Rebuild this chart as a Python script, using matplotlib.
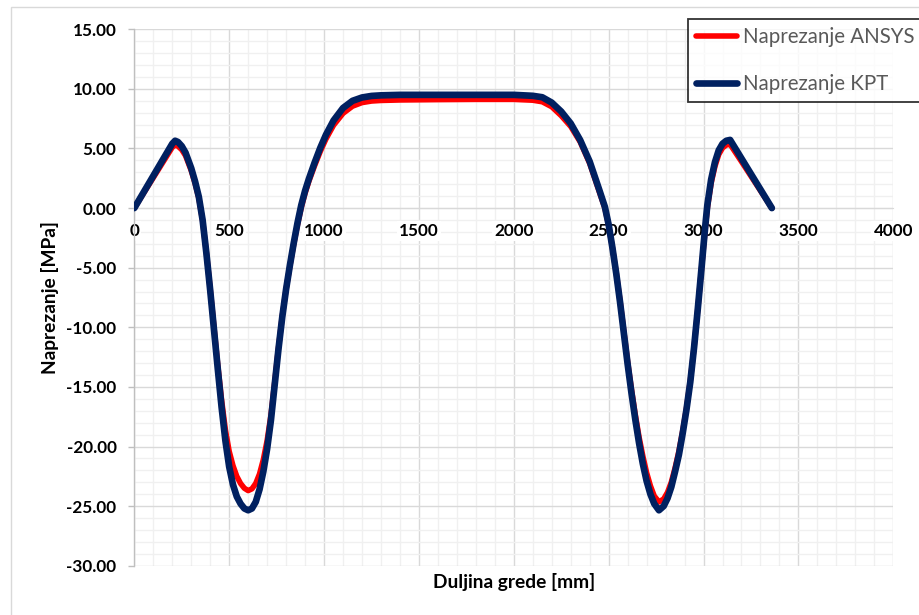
import matplotlib
matplotlib.use('Agg')
import matplotlib.pyplot as plt
from matplotlib.ticker import MultipleLocator, FormatStrFormatter
from matplotlib.patches import Rectangle

plt.rcParams['font.family'] = ['Lato', 'DejaVu Sans']

# ---- data ----
x_mm = [0, 100, 200, 215, 230, 250, 270, 300, 320, 340, 360, 380, 400, 420, 440,
        460, 480, 500, 520, 540, 560, 580, 600, 620, 640, 660, 680, 700, 720, 740,
        760, 780, 800, 820, 840, 860, 880, 900, 920, 950, 980, 1010, 1050, 1100,
        1150, 1200, 1250, 1300, 1400, 1600, 1800, 2000, 2100, 2150, 2200, 2250,
        2300, 2350, 2400, 2450, 2480, 2500, 2520, 2540, 2560, 2580, 2600, 2620,
        2640, 2660, 2680, 2700, 2720, 2740, 2765, 2790, 2810, 2830, 2850, 2870,
        2890, 2910, 2930, 2950, 2970, 2990, 3000, 3010, 3020, 3040, 3060, 3080,
        3100, 3120, 3140, 3200, 3250, 3300, 3360]

naprezanje_kpt = [0, 2.7, 5.4, 5.65, 5.55, 5.2, 4.65, 3.35, 2.25, 0.95, -1.0, -3.8,
                  -6.9, -10.2, -13.5, -16.7, -19.5, -21.7, -23.2, -24.2, -24.8,
                  -25.2, -25.35, -25.2, -24.65, -23.6, -22.1, -20.2, -17.8, -14.8,
                  -11.8, -9.1, -6.8, -4.8, -2.95, -1.25, 0.25, 1.45, 2.45, 3.8, 5.05,
                  6.15, 7.35, 8.4, 9.0, 9.28, 9.41, 9.46, 9.5, 9.5, 9.5, 9.5, 9.42,
                  9.3, 8.85, 8.1, 7.1, 5.7, 3.9, 1.55, 0.1, -1.4, -3.35, -5.5, -7.9,
                  -10.5, -13.1, -15.5, -17.7, -19.7, -21.45, -22.9, -24.0, -24.8,
                  -25.35, -25.0, -24.35, -23.4, -22.1, -20.7, -18.9, -16.9, -14.6,
                  -11.7, -8.4, -4.9, -3.1, -1.35, 0.25, 2.4, 3.85, 4.85, 5.4, 5.65,
                  5.72, 4.16, 2.86, 1.56, 0]

naprezanje_ansys = [0, 2.55, 5.1, 5.3, 5.2, 4.9, 4.4, 3.15, 2.1, 0.85, -1.05, -3.75,
                    -6.8, -10.0, -13.2, -16.1, -18.6, -20.4, -21.6, -22.5, -23.1,
                    -23.5, -23.7, -23.55, -23.1, -22.3, -21.1, -19.5, -17.4, -14.6,
                    -11.7, -9.05, -6.8, -4.85, -3.05, -1.4, 0.05, 1.25, 2.25, 3.55,
                    4.75, 5.8, 6.95, 7.95, 8.55, 8.85, 8.98, 9.03, 9.07, 9.1, 9.12,
                    9.12, 9.05, 8.92, 8.5, 7.75, 6.85, 5.55, 3.75, 1.4, 0.0, -1.45,
                    -3.35, -5.45, -7.8, -10.35, -12.9, -15.2, -17.3, -19.2, -20.8,
                    -22.2, -23.3, -24.15, -24.65, -24.4, -23.85, -23.0, -21.8, -20.4,
                    -18.7, -16.8, -14.5, -11.7, -8.4, -4.95, -3.25, -1.55, 0.0, 2.1,
                    3.5, 4.5, 5.05, 5.3, 5.35, 3.9, 2.68, 1.46, 0]

series_labels = ['Naprezanje ANSYS', 'Naprezanje KPT']
x_title = 'Duljina grede [mm]'
y_title = 'Naprezanje [MPa]'

X_LIM = (0, 4000)
Y_LIM = (-30, 15)

# ---- figure ----
W, H = 920, 615
fig = plt.figure(figsize=(W / 100, H / 100), dpi=100)
fig.patch.set_facecolor('white')

# outer chart border
fig.add_artist(Rectangle((11 / W, -0.1), 2.0, 1 - 6.7 / H + 0.1,
                         transform=fig.transFigure, fill=False,
                         edgecolor='#D9D9D9', lw=1.0))

left, right, top, bottom = 134.3, 893.3, 29.3, 565.7
rect = [left / W, 1 - bottom / H, (right - left) / W, (bottom - top) / H]


def set_scales(a):
    a.set_xlim(*X_LIM)
    a.set_ylim(*Y_LIM)
    a.xaxis.set_major_locator(MultipleLocator(500))
    a.xaxis.set_minor_locator(MultipleLocator(100))
    a.yaxis.set_major_locator(MultipleLocator(5))
    a.yaxis.set_minor_locator(MultipleLocator(1))


# background axes: gridlines only
axg = fig.add_axes(rect, zorder=0)
set_scales(axg)
axg.grid(which='minor', color='#F0F0F0', lw=1.0)
axg.grid(which='major', color='#D9D9D9', lw=1.0)
axg.tick_params(which='both', length=0, labelbottom=False, labelleft=False)
for s in axg.spines.values():
    s.set_visible(False)

# main axes
ax = fig.add_axes(rect, zorder=1)
ax.patch.set_alpha(0)
set_scales(ax)

ax.plot(x_mm, naprezanje_ansys, color='#FF0000', lw=4.0,
        solid_capstyle='round', solid_joinstyle='round', label=series_labels[0], zorder=3)
ax.plot(x_mm, naprezanje_kpt, color='#002060', lw=4.8,
        solid_capstyle='round', solid_joinstyle='round', label=series_labels[1], zorder=4)

ax.yaxis.set_major_formatter(FormatStrFormatter('%.2f'))
ax.xaxis.set_major_formatter(FormatStrFormatter('%d'))

for s in ['top', 'right']:
    ax.spines[s].set_visible(False)
ax.spines['bottom'].set_position(('data', 0))
ax.spines['bottom'].set_color('#D9D9D9')
ax.spines['left'].set_color('#BFBFBF')
ax.spines['left'].set_linewidth(1.0)

ax.tick_params(axis='x', which='both', length=0, pad=10.5, labelsize=12.3)
ax.tick_params(axis='y', which='major', length=4.3, width=1.0, color='#BFBFBF',
               direction='out', pad=8.5, labelsize=12.3)
ax.tick_params(axis='y', which='minor', length=0)
for lab in ax.get_xticklabels() + ax.get_yticklabels():
    lab.set_fontweight('bold')
    lab.set_color('black')
for lab in ax.get_xticklabels():
    lab.set_bbox(dict(facecolor='white', edgecolor='none', pad=1.5))

ax.set_xlabel(x_title, fontsize=13.8, fontweight='bold', color='black')
ax.set_ylabel(y_title, fontsize=13.8, fontweight='bold', color='black')
ax.xaxis.set_label_coords(0.5, (bottom - 582) / (bottom - top))
ax.xaxis.label.set_va('center')
ax.yaxis.set_label_coords((50 - left) / (right - left), 0.5)
ax.yaxis.label.set_va('center')

leg = ax.legend(loc='upper left', bbox_to_anchor=(688 / W, 1 - 19 / H),
                bbox_transform=fig.transFigure, borderaxespad=0,
                fontsize=14.8, frameon=True, fancybox=False, edgecolor='black',
                handlelength=2.0, handletextpad=0.3, labelspacing=1.3,
                borderpad=0.4)
leg.get_frame().set_linewidth(1.3)
for t in leg.get_texts():
    t.set_color('#595959')

fig.savefig('out.png', dpi=100, facecolor='white')
